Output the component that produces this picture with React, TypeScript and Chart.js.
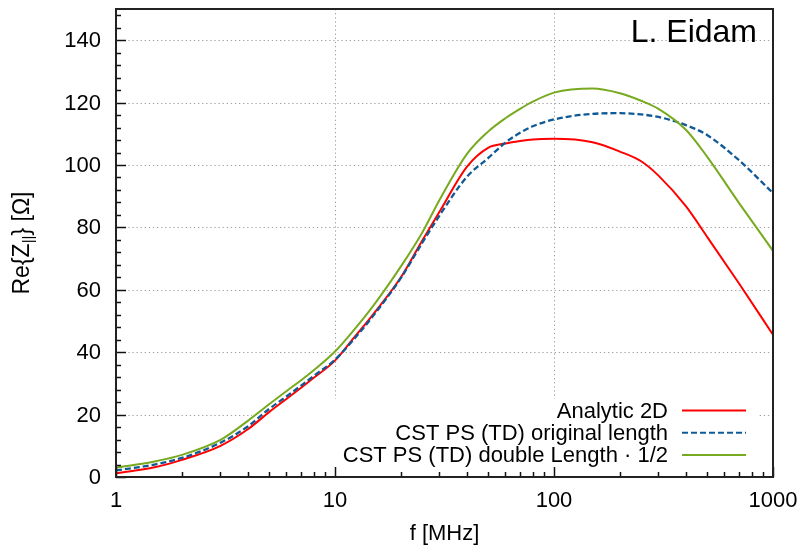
import React, { useEffect, useRef } from 'react';
import { Chart, registerables } from 'chart.js';

Chart.register(...registerables);

// ---- data ----
const freqMHz = [1, 1.5, 2, 3, 4, 5, 6, 7, 8, 10, 12, 15, 20, 25, 30, 40, 50, 60, 70, 80, 100, 150, 200, 250, 300, 400, 500, 700, 1000];
const analytic2D = [1.2, 3.1, 5.5, 10.0, 15.3, 20.8, 25.0, 28.6, 31.8, 37.3, 44.0, 52.3, 64.0, 75.7, 85.0, 99.4, 105.5, 106.9, 107.7, 108.2, 108.4, 107.3, 104.3, 101.2, 96.6, 86.8, 77.0, 62.0, 45.6];
const cstOriginal = [2.1, 4.0, 6.1, 11.0, 16.2, 21.8, 25.8, 29.3, 32.4, 37.6, 43.6, 51.8, 63.8, 75.0, 83.8, 96.2, 102.2, 107.2, 110.3, 112.4, 114.6, 116.4, 116.6, 116.2, 115.4, 112.8, 109.6, 101.5, 91.0];
const cstDoubleHalf = [3.0, 5.0, 7.1, 11.9, 18.0, 23.3, 27.5, 31.0, 34.2, 40.2, 46.5, 55.0, 67.5, 78.3, 88.8, 103.5, 110.7, 115.0, 118.0, 120.3, 123.2, 124.5, 123.0, 120.6, 118.0, 111.3, 102.7, 87.8, 72.5];
const seriesLabels = ['Analytic 2D', 'CST PS (TD) original length', 'CST PS (TD) double Length \u00b7 1/2'];
const seriesColors = ['#ff0000', '#0f5a96', '#78aa20'];
const xTickValues = [1, 10, 100, 1000];
const xMinorTicks = [2, 3, 4, 5, 6, 7, 8, 9, 20, 30, 40, 50, 60, 70, 80, 90, 200, 300, 400, 500, 600, 700, 800, 900];
const xGridValues = [10, 100];
const yTickValues = [0, 20, 40, 60, 80, 100, 120, 140];
const yMinorStep = 4;
const xTitle = 'f [MHz]';
const yTitleParts = ['Re{Z', '||', '} [\u03a9]'];
const authorLabel = 'L. Eidam';

const FONT = '"Liberation Sans", Arial, Helvetica, sans-serif';

const decorPlugin = {
  id: 'decor',
  beforeDatasetsDraw(chart: any) {
    const { ctx, chartArea: a, scales } = chart;
    const x = scales.x, y = scales.y;
    ctx.save();
    ctx.strokeStyle = '#a0a0a0';
    ctx.lineWidth = 1;
    ctx.setLineDash([1.3, 2.8]);
    for (const v of yTickValues) {
      if (v === 0) continue;
      const py = Math.round(y.getPixelForValue(v)) + 0.5;
      ctx.beginPath(); ctx.moveTo(a.left, py); ctx.lineTo(a.right, py); ctx.stroke();
    }
    for (const v of xGridValues) {
      const px = Math.round(x.getPixelForValue(v)) + 0.5;
      ctx.beginPath(); ctx.moveTo(px, a.top); ctx.lineTo(px, a.bottom); ctx.stroke();
    }
    ctx.setLineDash([]);
    // opaque key box
    ctx.fillStyle = '#ffffff';
    ctx.fillRect(a.left + 136, a.bottom - 78, a.right - 14 - (a.left + 136), 78);
    ctx.restore();
  },
  afterDatasetsDraw(chart: any) {
    const { ctx, chartArea: a, scales } = chart;
    const x = scales.x, y = scales.y;
    ctx.save();
    // legend
    const textRight = a.right - 105;
    const sx0 = a.right - 91, sx1 = a.right - 27;
    const rows = [a.bottom - 66.5, a.bottom - 44.3, a.bottom - 22];
    ctx.font = `22px ${FONT}`;
    ctx.textAlign = 'right';
    ctx.textBaseline = 'middle';
    chart.data.datasets.forEach((ds: any, i: number) => {
      const ry = rows[i];
      ctx.fillStyle = '#000';
      ctx.fillText(ds.label, textRight, ry + 1);
      ctx.strokeStyle = ds.borderColor;
      ctx.lineWidth = 2;
      ctx.setLineDash(ds.borderDash || []);
      ctx.beginPath(); ctx.moveTo(sx0, ry); ctx.lineTo(sx1, ry); ctx.stroke();
    });
    ctx.setLineDash([]);
    // author label
    ctx.font = `32px ${FONT}`;
    ctx.textAlign = 'right';
    ctx.textBaseline = 'alphabetic';
    ctx.fillStyle = '#000';
    ctx.fillText(authorLabel, a.right - 16, a.top + 33);
    // tick marks (inward)
    ctx.strokeStyle = '#111';
    ctx.lineWidth = 1.5;
    const yMax = y.max;
    for (let v = 0; v <= yMax; v += yMinorStep) {
      const py = Math.round(y.getPixelForValue(v)) + 0.5;
      const len = v % 20 === 0 ? 10 : 5;
      ctx.beginPath(); ctx.moveTo(a.left, py); ctx.lineTo(a.left + len, py); ctx.stroke();
    }
    for (const v of xTickValues) {
      const px = Math.round(x.getPixelForValue(v)) + 0.5;
      ctx.beginPath(); ctx.moveTo(px, a.bottom); ctx.lineTo(px, a.bottom - 10); ctx.stroke();
    }
    for (const v of xMinorTicks) {
      const px = Math.round(x.getPixelForValue(v)) + 0.5;
      ctx.beginPath(); ctx.moveTo(px, a.bottom); ctx.lineTo(px, a.bottom - 5); ctx.stroke();
    }
    // frame
    ctx.strokeStyle = '#222';
    ctx.lineWidth = 2;
    ctx.strokeRect(a.left, a.top, a.right - a.left, a.bottom - a.top);
    ctx.restore();
  },
  afterDraw(chart: any) {
    const { ctx, chartArea: a, scales } = chart;
    const x = scales.x, y = scales.y;
    ctx.save();
    ctx.fillStyle = '#000';
    // tick labels
    ctx.font = `22px ${FONT}`;
    ctx.textAlign = 'right';
    ctx.textBaseline = 'middle';
    for (const v of yTickValues) {
      ctx.fillText(String(v), a.left - 15, y.getPixelForValue(v) + 1);
    }
    ctx.textAlign = 'center';
    for (const v of xTickValues) {
      ctx.fillText(String(v), x.getPixelForValue(v), a.bottom + 24);
    }
    // axis titles
    ctx.fillText(xTitle, (a.left + a.right) / 2, a.bottom + 57);
    ctx.translate(23, (a.top + a.bottom) / 2);
    ctx.rotate(-Math.PI / 2);
    ctx.textAlign = 'left';
    ctx.textBaseline = 'middle';
    const big = `23px ${FONT}`, small = `15px ${FONT}`;
    ctx.font = big;
    const w0 = ctx.measureText(yTitleParts[0]).width;
    const w2 = ctx.measureText(yTitleParts[2]).width;
    ctx.font = small;
    const w1 = ctx.measureText(yTitleParts[1]).width;
    const total = w0 + w1 + w2;
    let cx = -total / 2;
    ctx.font = big;
    ctx.fillText(yTitleParts[0], cx, 0);
    cx += w0;
    ctx.font = small;
    ctx.fillText(yTitleParts[1], cx, 6);
    cx += w1;
    ctx.font = big;
    ctx.fillText(yTitleParts[2], cx, 0);
    ctx.restore();
  },
};

export default function App() {
  const canvasRef = useRef<HTMLCanvasElement | null>(null);

  useEffect(() => {
    const canvas = canvasRef.current;
    if (!canvas) return;
    const series = [analytic2D, cstOriginal, cstDoubleHalf];
    const chart = new Chart(canvas, {
      type: 'line',
      data: {
        datasets: series.map((vals, i) => ({
          label: seriesLabels[i],
          data: freqMHz.map((f, j) => ({ x: f, y: vals[j] })),
          borderColor: seriesColors[i],
          backgroundColor: seriesColors[i],
          borderWidth: i === 1 ? 2.3 : 2,
          borderDash: i === 1 ? [6, 3] : [],
          pointRadius: 0,
          fill: false,
          cubicInterpolationMode: 'monotone',
          order: 3 - i,
        })),
      },
      options: {
        animation: false,
        responsive: true,
        maintainAspectRatio: false,
        layout: { padding: { top: 9, right: 27, left: 0, bottom: 0 } },
        plugins: {
          legend: { display: false },
          tooltip: { enabled: false },
          title: { display: false },
        },
        scales: {
          x: {
            type: 'logarithmic',
            min: 1,
            max: 1000,
            grid: { display: false, drawTicks: false },
            border: { display: false },
            ticks: { display: false },
            afterFit: (s: any) => {
              s.height = 69;
            },
          },
          y: {
            type: 'linear',
            min: 0,
            max: 150,
            grid: { display: false, drawTicks: false },
            border: { display: false },
            ticks: { display: false },
            afterFit: (s: any) => {
              s.width = 116;
            },
          },
        },
      } as any,
      plugins: [decorPlugin],
    });
    return () => chart.destroy();
  }, []);

  return (
    <div style={{ position: 'fixed', left: 0, top: 0, width: 800, height: 546, background: '#fff' }}>
      <canvas ref={canvasRef} />
    </div>
  );
}
